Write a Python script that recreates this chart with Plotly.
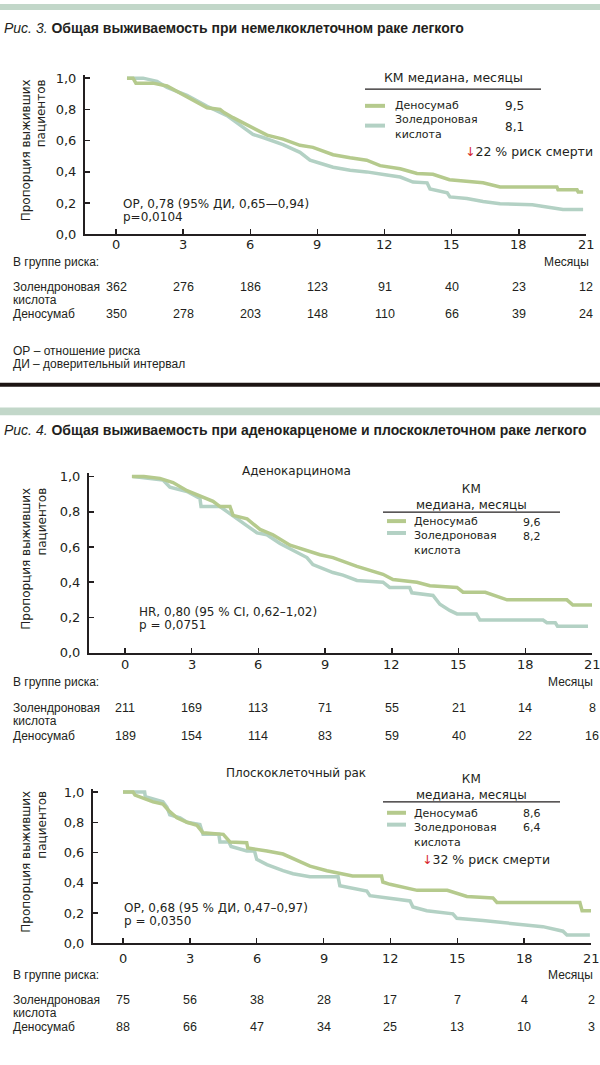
import plotly.graph_objects as go

W, H = 600, 1065
INK = "#231f20"
GREEN = "#b5ca8d"
TEAL = "#b3d1c4"
BAR = "#c2d7c9"
RED = "#d7262e"
SANS = "DejaVu Sans, Verdana, sans-serif"
NARROW = "Liberation Sans, Arial, sans-serif"

# ---------------- data ----------------
month_ticks = [0, 3, 6, 9, 12, 15, 18, 21]
month_labels = ["0", "3", "6", "9", "12", "15", "18", "21"]
surv_ticks = [0.0, 0.2, 0.4, 0.6, 0.8, 1.0]
surv_labels = ["0,0", "0,2", "0,4", "0,6", "0,8", "1,0"]

series_names = ["Деносумаб", "Золедроновая кислота"]

# Fig 3 - NSCLC
nsclc_deno_t = [0.49, 0.76, 0.89, 1.65, 2.28, 2.86, 3.44, 4.07, 4.65, 4.83, 5.23, 6.12, 6.75, 7.46,
                8.22, 8.80, 9.70, 10.46, 11.2, 11.8, 12.7, 13.45, 14.16, 14.9, 15.7, 16.4, 17.16,
                19.7, 19.75, 20.6, 20.65, 20.87]
nsclc_deno_s = [1.0, 1.0, 0.968, 0.968, 0.95, 0.905, 0.86, 0.81, 0.80, 0.78, 0.747, 0.68, 0.635, 0.61,
                0.57, 0.557, 0.51, 0.49, 0.475, 0.44, 0.42, 0.39, 0.385, 0.35, 0.34, 0.33, 0.304,
                0.304, 0.285, 0.285, 0.272, 0.272]
nsclc_zol_t = [0.49, 1.21, 1.83, 2.28, 3.17, 4.07, 4.96, 5.54, 6.12, 6.57, 7.46, 8.22, 8.67, 9.12,
               9.70, 10.46, 11.2, 12.1, 12.7, 13.27, 13.9, 14.03, 14.8, 14.92, 15.68, 16.4, 17.16,
               18.6, 19.26, 19.97, 20.87]
nsclc_zol_s = [1.0, 1.0, 0.98, 0.94, 0.89, 0.82, 0.76, 0.70, 0.64, 0.62, 0.575, 0.525, 0.475, 0.455,
               0.43, 0.41, 0.40, 0.38, 0.367, 0.335, 0.33, 0.29, 0.266, 0.24, 0.23, 0.21, 0.196,
               0.19, 0.177, 0.16, 0.16]
nsclc_risk_zol = [362, 276, 186, 123, 91, 40, 23, 12]
nsclc_risk_deno = [350, 278, 203, 148, 110, 66, 39, 24]
nsclc_medians = ["9,5", "8,1"]

# Fig 4a - adenocarcinoma
adeno_deno_t = [0.31, 0.85, 1.57, 2.16, 2.79, 3.37, 3.96, 4.27, 4.72, 4.86, 5.49, 6.07, 6.65, 7.42,
                8.18, 8.77, 9.35, 10.43, 11.6, 12.05, 13.13, 13.71, 14.93, 15.2, 16.2, 17.18,
                19.87, 20.14, 21.0]
adeno_deno_s = [1.0, 1.0, 0.99, 0.966, 0.92, 0.89, 0.86, 0.83, 0.83, 0.78, 0.76, 0.70, 0.67, 0.61,
                0.58, 0.556, 0.54, 0.49, 0.445, 0.415, 0.40, 0.38, 0.37, 0.343, 0.343, 0.30,
                0.30, 0.27, 0.27]
adeno_zol_t = [0.36, 1.12, 1.71, 2.02, 2.79, 3.37, 3.42, 4.27, 4.59, 5.49, 5.94, 6.38, 6.97, 7.55,
               8.18, 8.45, 9.35, 9.8, 10.43, 11.6, 11.9, 12.8, 12.9, 13.85, 14.16, 14.6, 14.93,
               15.8, 15.96, 18.8, 18.97, 19.35, 19.45, 20.82]
adeno_zol_s = [1.0, 0.99, 0.98, 0.94, 0.915, 0.876, 0.83, 0.83, 0.80, 0.72, 0.68, 0.67, 0.62, 0.58,
               0.54, 0.50, 0.455, 0.44, 0.41, 0.40, 0.37, 0.37, 0.34, 0.325, 0.275, 0.24, 0.22,
               0.22, 0.185, 0.185, 0.17, 0.17, 0.15, 0.15]
adeno_risk_zol = [211, 169, 113, 71, 55, 21, 14, 8]
adeno_risk_deno = [189, 154, 114, 83, 59, 40, 22, 16]
adeno_medians = ["9,6", "8,2"]

# Fig 4b - squamous
squam_deno_t = [0.0, 0.45, 0.54, 0.9, 1.35, 1.79, 2.1, 2.42, 2.87, 3.32, 3.59, 4.5, 4.8, 5.55, 5.6,
                6.46, 7.18, 7.94, 8.39, 9.15, 10.3, 11.6, 11.66, 11.98, 13.2, 14.55, 15.43, 16.6,
                16.78, 20.5, 20.6, 21.0]
squam_deno_s = [1.0, 1.0, 0.98, 0.96, 0.935, 0.92, 0.87, 0.83, 0.80, 0.78, 0.73, 0.72, 0.67, 0.665,
                0.63, 0.61, 0.59, 0.54, 0.51, 0.48, 0.445, 0.445, 0.405, 0.39, 0.35, 0.35, 0.31,
                0.30, 0.27, 0.27, 0.215, 0.215]
squam_zol_t = [0.0, 0.97, 1.0, 1.53, 1.79, 1.97, 2.1, 2.56, 2.87, 3.45, 3.59, 4.3, 4.35, 4.75, 4.85,
               5.56, 5.9, 6.0, 6.46, 7.18, 7.63, 8.39, 9.65, 9.73, 10.94, 11.08, 11.98, 12.88,
               13.01, 13.63, 14.8, 14.98, 16.15, 17.5, 18.84, 19.74, 19.92, 20.95]
squam_zol_s = [1.0, 1.0, 0.97, 0.95, 0.935, 0.90, 0.85, 0.83, 0.80, 0.785, 0.72, 0.72, 0.67, 0.67,
               0.64, 0.61, 0.61, 0.555, 0.52, 0.48, 0.46, 0.44, 0.44, 0.38, 0.345, 0.315, 0.295,
               0.28, 0.24, 0.215, 0.195, 0.165, 0.15, 0.13, 0.11, 0.08, 0.055, 0.055]
squam_risk_zol = [75, 56, 38, 28, 17, 7, 4, 2]
squam_risk_deno = [88, 66, 47, 34, 25, 13, 10, 3]
squam_medians = ["8,6", "6,4"]

# ---------------- helpers ----------------
def X(px):
    return px / W


def Y(py):
    return 1 - py / H


fig = go.Figure()
annotations = []
shapes = []


def txt(text, px, py, size=12.5, family=SANS, xanchor="left", color=INK, x=None, xref="paper",
        align="left"):
    annotations.append(dict(
        text=text, x=X(px) if x is None else x, y=Y(py), xref=xref, yref="paper",
        xanchor=xanchor, yanchor="middle", showarrow=False, borderpad=0, align=align,
        font=dict(family=family, size=size, color=color)))


def hline(x0, x1, py, color, width):
    shapes.append(dict(type="line", xref="paper", yref="paper", x0=X(x0), x1=X(x1),
                       y0=Y(py), y1=Y(py), line=dict(color=color, width=width)))


def panel(idx, geom, deno, zol, risk_zol, risk_deno, medians, legend, stats, risk_y,
          subtitle=None, arrow=None):
    ax0, t0, t21, py0, py1, ylab = geom
    ppm = (t21 - t0) / 21.0
    xmin = -(t0 - ax0) / ppm
    ytop_px = py0 - 1.02 * (py0 - py1)
    suffix = "" if idx == 1 else str(idx)
    xname, yname = "x" + suffix, "y" + suffix
    axis_common = dict(showline=True, linecolor=INK, linewidth=2, ticks="inside", ticklen=5,
                       tickwidth=1.5, tickcolor=INK, showgrid=False, zeroline=False,
                       tickfont=dict(family=SANS, size=13, color=INK), fixedrange=True)
    fig.layout["xaxis" + suffix] = dict(domain=[X(ax0), X(t21)], range=[xmin, 21], anchor=yname,
                                        tickvals=month_ticks, showticklabels=False, **axis_common)
    fig.layout["yaxis" + suffix] = dict(domain=[Y(py0), Y(ytop_px)], range=[0, 1.02], anchor=xname,
                                        tickvals=surv_ticks, ticktext=surv_labels,
                                        ticklabelstandoff=4, **axis_common)
    for (t, s), color, name in ((zol, TEAL, series_names[1]), (deno, GREEN, series_names[0])):
        fig.add_trace(go.Scatter(x=t, y=s, mode="lines", xaxis=xname, yaxis=yname, name=name,
                                 line=dict(color=color, width=3.5), showlegend=False,
                                 hoverinfo="skip"))
    # x tick labels
    for m, lab in zip(month_ticks, month_labels):
        txt(lab, 0, ylab, size=13, xanchor="center", x=m, xref=xname)
    # y title
    annotations.append(dict(text="Пропорция выживших<br>пациентов", x=X(34), y=Y((py0 + py1) / 2 - 6),
                            xref="paper", yref="paper", textangle=-90, align="right",
                            xanchor="center", yanchor="middle", showarrow=False,
                            font=dict(family=SANS, size=12, color=INK)))
    if subtitle:
        txt(subtitle[0], 296, subtitle[1], size=12, xanchor="center")
    # legend
    lg = legend
    txt(lg["head"][0], lg["cx"], lg["head"][1], size=lg["hsize"], xanchor="center", align="center")
    hline(lg["rule"][0], lg["rule"][1], lg["rule"][2], INK, 1.2)
    hline(lg["seg"][0], lg["seg"][1], lg["ydeno"], GREEN, 4)
    hline(lg["seg"][0], lg["seg"][1], lg["yzol"], TEAL, 4)
    txt("Деносумаб<br>Золедроновая<br>кислота", lg["tx"], lg["ylab"], size=11)
    if lg.get("ymed") is not None:
        txt("<br>".join(medians), lg["mx"], lg["ymed"], size=11)
    else:
        txt(medians[0], lg["mx"], lg["ydeno"], size=12)
        txt(medians[1], lg["mx"], lg["ymzol"], size=12)
    if arrow:
        txt('<span style="color:%s">↓</span>%s' % (RED, arrow[0]), arrow[1], arrow[2], size=12.5)
    # stats
    txt(stats[0], stats[2], stats[3], size=12)
    txt(stats[1], stats[2], stats[3] + 13, size=12)
    # risk table
    ry_head, ry_zol, ry_deno, mes_right = risk_y
    txt("В группе риска:", 12, ry_head, size=12, family=NARROW)
    txt("Месяцы", mes_right, ry_head, size=12, family=NARROW, xanchor="right")
    txt("Золендроновая", 12, ry_zol, size=12, family=NARROW)
    txt("кислота", 12, ry_zol + 13, size=12, family=NARROW)
    txt("Деносумаб", 12, ry_deno, size=12, family=NARROW)
    for m, nz, nd in zip(month_ticks, risk_zol, risk_deno):
        txt(str(nz), 0, ry_zol, size=12.5, family=NARROW, xanchor="center", x=m, xref=xname)
        txt(str(nd), 0, ry_deno, size=12.5, family=NARROW, xanchor="center", x=m, xref=xname)


# top bars / separators
shapes.append(dict(type="rect", xref="paper", yref="paper", x0=0, x1=1, y0=Y(6), y1=Y(0),
                   fillcolor=BAR, line=dict(width=0)))
shapes.append(dict(type="rect", xref="paper", yref="paper", x0=0, x1=1, y0=Y(416), y1=Y(408),
                   fillcolor=BAR, line=dict(width=0)))
hline(0, 600, 385, "#1c1412", 4)

txt("<i>Рис. 3.</i> <b>Общая выживаемость при немелкоклеточном раке легкого</b>", 3, 24,
    size=14, family=NARROW)
txt("<i>Рис. 4.</i> <b>Общая выживаемость при аденокарценоме и плоскоклеточном раке легкого</b>", 3, 431,
    size=14, family=NARROW)

panel(1, (85, 116, 586, 233, 75, 243),
      (nsclc_deno_t, nsclc_deno_s), (nsclc_zol_t, nsclc_zol_s),
      nsclc_risk_zol, nsclc_risk_deno, nsclc_medians,
      dict(head=("КМ медиана, месяцы", 74), hsize=12.5, cx=453, rule=(365, 541, 86), seg=(365, 385),
           tx=394, mx=504, ydeno=103, yzol=123, ylab=117, ymzol=124),
      ("ОР, 0,78 (95% ДИ, 0,65—0,94)", "p=0,0104", 122, 202),
      (261, 286, 314, 590), arrow=("22 % риск смерти", 464, 149))

panel(2, (89, 125, 592, 656, 478, 668),
      (adeno_deno_t, adeno_deno_s), (adeno_zol_t, adeno_zol_s),
      adeno_risk_zol, adeno_risk_deno, adeno_medians,
      dict(head=("КМ<br>медиана, месяцы", 498.5), hsize=12, cx=471, rule=(383, 560, 514), seg=(387, 406),
           tx=413, mx=522, ydeno=523, yzol=535, ylab=538.5, ymed=531),
      ("HR, 0,80 (95 % CI, 0,62–1,02)", "p = 0,0751", 138, 615),
      (686, 712, 740, 594), subtitle=("Аденокарцинома", 472))

panel(3, (93, 123, 591, 950, 797, 965),
      (squam_deno_t, squam_deno_s), (squam_zol_t, squam_zol_s),
      squam_risk_zol, squam_risk_deno, squam_medians,
      dict(head=("КМ<br>медиана, месяцы", 791.5), hsize=12, cx=471, rule=(383, 560, 807), seg=(387, 406),
           tx=413, mx=522, ydeno=818, yzol=830, ylab=833, ymed=826),
      ("ОР, 0,68 (95 % ДИ, 0,47–0,97)", "p = 0,0350", 123, 914),
      (982, 1007, 1035, 594), subtitle=("Плоскоклеточный рак", 778),
      arrow=("32 % риск смерти", 421, 865))

# footnotes
txt("ОР – отношение риска", 12, 351, size=12, family=NARROW)
txt("ДИ – доверительный интервал", 12, 364, size=12, family=NARROW)

fig.update_layout(width=W, height=H, autosize=False, margin=dict(l=0, r=0, t=0, b=0),
                  paper_bgcolor="white", plot_bgcolor="white", showlegend=False,
                  annotations=annotations, shapes=shapes, separators=", ")

fig.write_html("out.html", post_script="document.body.style.margin='0';",
               config={"displayModeBar": False, "staticPlot": True})
